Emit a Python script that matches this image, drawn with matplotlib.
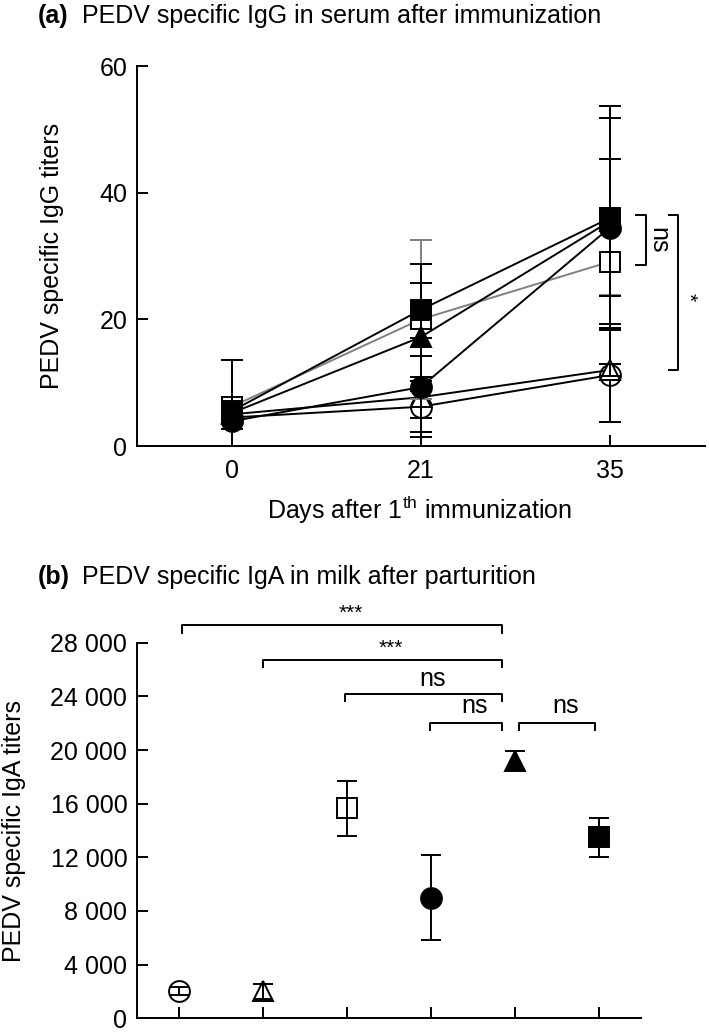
import matplotlib
matplotlib.use("Agg")
import matplotlib.pyplot as plt

plt.rcParams['font.family'] = ['Liberation Sans', 'DejaVu Sans']
plt.rcParams['mathtext.fontset'] = 'custom'
plt.rcParams['mathtext.rm'] = 'Liberation Sans'
plt.rcParams['mathtext.it'] = 'Liberation Sans'

# ---------------- data: panel (a) ----------------
day_labels = ['0', '21', '35']
igg_open_circle = [4.5, 6.2, 11.2]
igg_open_circle_err = [1.0, 4.0, 7.4]
igg_open_triangle = [5.0, 7.7, 12.0]
igg_open_triangle_err = [1.0, 3.2, 1.0]
igg_open_square = [6.2, 20.0, 29.1]
igg_open_square_err = [1.5, 12.5, 5.3]
igg_filled_circle = [3.9, 9.3, 34.5]
igg_filled_circle_err = [1.2, 7.8, 10.8]
igg_filled_triangle = [5.2, 17.2, 35.5]
igg_filled_triangle_err = [8.4, 8.5, 16.3]
igg_filled_square = [5.5, 21.5, 36.0]
igg_filled_square_err = [1.5, 7.3, 17.7]
igg_yticks = [0, 20, 40, 60]

# ---------------- data: panel (b) ----------------
iga_groups = ['G1', 'G2', 'G3', 'G4', 'G5', 'G6']
iga_mean = [2000, 2000, 15650, 9000, 19200, 13500]
iga_err = [300, 550, 2070, 3170, 700, 1450]
iga_yticks = [0, 4000, 8000, 12000, 16000, 20000, 24000, 28000]
sig_left = [0.03, 1.0, 1.98, 2.99, 4.05]
sig_right = [3.85, 3.85, 3.85, 3.85, 4.95]
sig_y = [29300, 26740, 24210, 22020, 22020]
sig_label = ['***', '***', 'ns', 'ns', 'ns']
sig_text_y = [30190, 27590, 25330, 23250, 23250]

# ---------------- styles ----------------
LW = 1.4
MS = 15
FS = 18
styles = [
    dict(marker='o', mfc='white', color='black'),
    dict(marker='^', mfc='white', color='black'),
    dict(marker='s', mfc='white', color='#808080'),
    dict(marker='o', mfc='black', color='black'),
    dict(marker='^', mfc='black', color='black'),
    dict(marker='s', mfc='black', color='black'),
]

fig = plt.figure(figsize=(7.09, 10.32), dpi=100)

# ================= panel (a) =================
ax1 = fig.add_axes([137/709, 1 - 446/1032, (704.5 - 137)/709, (446 - 66)/1032])
xs = list(range(len(day_labels)))
series = [
    (igg_open_circle, igg_open_circle_err),
    (igg_open_triangle, igg_open_triangle_err),
    (igg_open_square, igg_open_square_err),
    (igg_filled_circle, igg_filled_circle_err),
    (igg_filled_triangle, igg_filled_triangle_err),
    (igg_filled_square, igg_filled_square_err),
]
for i, ((vals, errs), st) in enumerate(zip(series, styles)):
    z = 3 + i
    ax1.plot(xs, vals, '-', color=st['color'], lw=LW, zorder=z)
    ax1.errorbar(xs, vals, yerr=errs, fmt='none', ecolor=st['color'],
                 elinewidth=LW, capsize=8, capthick=LW, zorder=z)
    ax1.plot(xs, vals, linestyle='none', marker=st['marker'], ms=MS,
             mfc=st['mfc'], mec='black', mew=LW, zorder=z + 0.5)
    if st['mfc'] == 'white' and st['marker'] != 's':
        ax1.errorbar(xs, vals, yerr=errs, fmt='none', ecolor=st['color'],
                     elinewidth=LW, capsize=8, capthick=LW, zorder=z + 0.6)

ax1.set_xlim(-0.5, 2.5)
ax1.set_ylim(0, 60)
ax1.set_xticks(xs)
ax1.set_xticklabels(day_labels)
ax1.set_yticks(igg_yticks)
ax1.set_yticklabels([str(v) for v in igg_yticks])
for s in ['top', 'right']:
    ax1.spines[s].set_visible(False)
for s in ['left', 'bottom']:
    ax1.spines[s].set_linewidth(LW)
ax1.tick_params(direction='in', length=8, width=LW, labelsize=FS, pad=7)
ax1.tick_params(axis='x', pad=9)
ax1.set_ylabel('PEDV specific IgG titers', fontsize=FS)
ax1.yaxis.set_label_coords((64 - 137) / 567.5, 0.5)
ax1.set_xlabel('Days after 1$^{\\mathrm{th}}$ immunization', fontsize=FS)
ax1.xaxis.set_label_coords((420 - 137) / 567.5, -(494 - 446) / 380)

# significance brackets panel (a)
ax1.plot([2.14, 2.19, 2.19, 2.14], [36.5, 36.5, 28.6, 28.6], color='black', lw=LW, clip_on=False)
ax1.text(2.255, 32.5, 'ns', rotation=-90, ha='center', va='center', fontsize=FS)
ax1.plot([2.31, 2.36, 2.36, 2.31], [36.5, 36.5, 12.0, 12.0], color='black', lw=LW, clip_on=False)
ax1.text(2.415, 23.5, '*', rotation=-90, ha='center', va='center', fontsize=15)

fig.text(38/709, 1 - 16/1032, '(a)', fontsize=FS, va='center', ha='left', fontweight='bold')
fig.text(82/709, 1 - 16/1032, 'PEDV specific IgG in serum after immunization', fontsize=FS, va='center', ha='left')

# ================= panel (b) =================
ax2 = fig.add_axes([137/709, 1 - 1018.3/1032, (641 - 137)/709, (1018.3 - 642.7)/1032])
gx = list(range(len(iga_groups)))
for i, st in enumerate(styles):
    ax2.plot([gx[i]], [iga_mean[i]], linestyle='none', marker=st['marker'], ms=MS,
             mfc=st['mfc'], mec='black', mew=LW, zorder=3)
    ax2.errorbar([gx[i]], [iga_mean[i]], yerr=[iga_err[i]], fmt='none', ecolor='black',
                 elinewidth=LW, capsize=7.5, capthick=LW, zorder=4)

ax2.set_xlim(-0.5, 5.5)
ax2.set_ylim(0, 28000)
ax2.set_xticks(gx)
ax2.set_xticklabels([])
ax2.set_yticks(iga_yticks)
ax2.set_yticklabels([f"{v:,}".replace(',', ' ') for v in iga_yticks])
for s in ['top', 'right']:
    ax2.spines[s].set_visible(False)
for s in ['left', 'bottom']:
    ax2.spines[s].set_linewidth(LW)
ax2.tick_params(direction='in', length=8, width=LW, labelsize=FS, pad=7)
ax2.set_ylabel('PEDV specific IgA titers', fontsize=FS)
ax2.yaxis.set_label_coords((26 - 137) / 504, 0.5)

tip = 550
for xl, xr, y, lab, ty in zip(sig_left, sig_right, sig_y, sig_label, sig_text_y):
    ax2.plot([xl, xl, xr, xr], [y - tip, y, y, y - tip], color='black', lw=LW, clip_on=False)
    ax2.text((xl + xr) / 2 + 0.1, ty, lab, ha='center', va='center',
             fontsize=15 if lab == '***' else FS, clip_on=False)

fig.text(38/709, 1 - 577/1032, '(b)', fontsize=FS, va='center', ha='left', fontweight='bold')
fig.text(82/709, 1 - 577/1032, 'PEDV specific IgA in milk after parturition', fontsize=FS, va='center', ha='left')

fig.savefig('out.png', dpi=100)
